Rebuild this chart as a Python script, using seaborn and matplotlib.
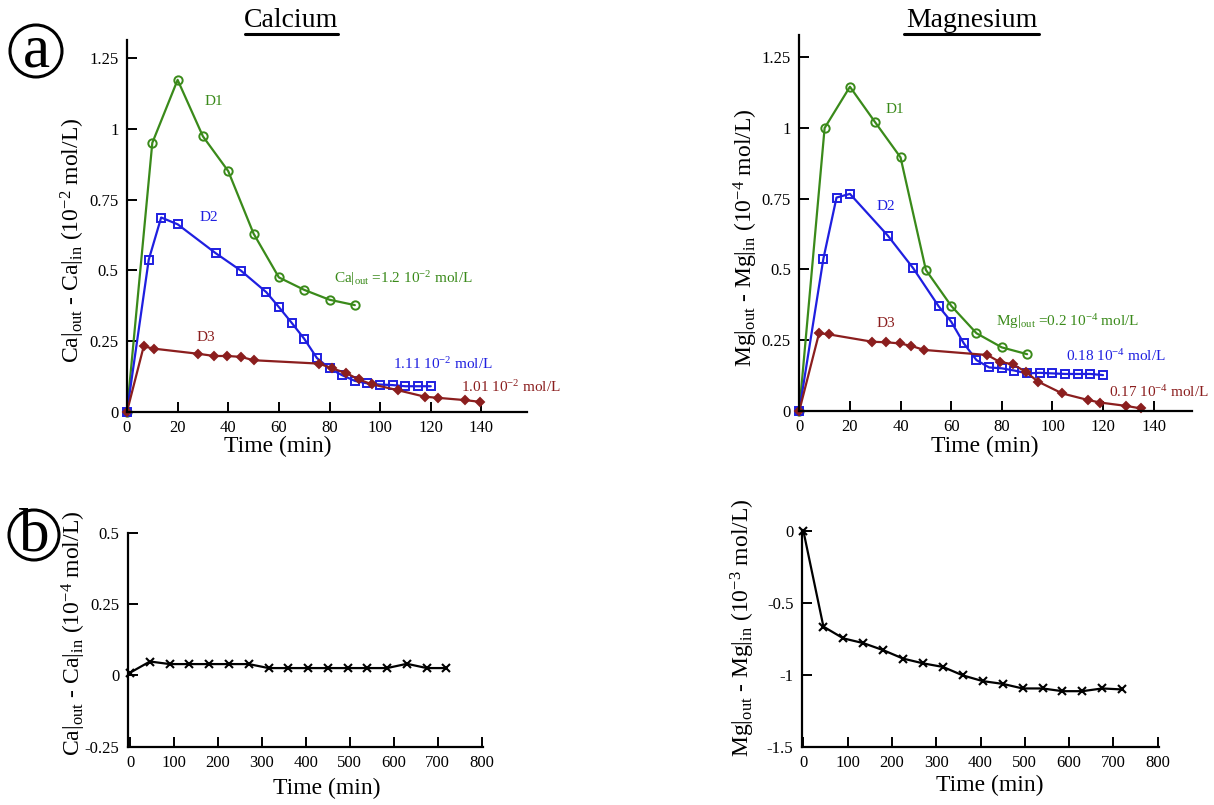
import matplotlib
matplotlib.use("Agg")
import matplotlib.pyplot as plt
from matplotlib.lines import Line2D
from matplotlib.patches import Circle
import seaborn as sns

# ---- Calcium, short runs (10^-2 mol/L) ----
ca_d1_t = [0, 10, 20, 30, 40, 50, 60, 70, 80, 90]
ca_d1_v = [0, 0.951, 1.174, 0.974, 0.851, 0.630, 0.475, 0.431, 0.396, 0.377]
ca_d2_t = [0, 8.6, 13.5, 20, 35, 45, 55, 60, 65, 70, 75, 80, 85, 90, 95, 100, 105, 110, 115, 120]
ca_d2_v = [0, 0.538, 0.687, 0.663, 0.561, 0.499, 0.423, 0.370, 0.315, 0.258, 0.190, 0.153,
           0.129, 0.109, 0.100, 0.096, 0.094, 0.090, 0.090, 0.090]
ca_d3_t = [0, 6.6, 10.6, 28, 34.5, 39.6, 45, 50, 76, 81, 86.5, 91.5, 96.7, 107, 117.6, 122.8, 133.4, 139.3]
ca_d3_v = [0, 0.231, 0.223, 0.205, 0.197, 0.197, 0.194, 0.182, 0.170, 0.153, 0.137, 0.114,
           0.097, 0.076, 0.053, 0.049, 0.041, 0.035]

# ---- Magnesium, short runs (10^-4 mol/L) ----
mg_d1_t = [0, 10, 20, 30, 40, 50, 60, 70, 80, 90]
mg_d1_v = [0, 1.0, 1.146, 1.02, 0.896, 0.498, 0.371, 0.274, 0.224, 0.2]
mg_d2_t = [0, 9.5, 14.7, 20, 35, 45, 55, 60, 65, 70, 75, 80, 85, 90, 95, 100, 105, 110, 115, 120]
mg_d2_v = [0, 0.537, 0.754, 0.767, 0.619, 0.504, 0.370, 0.315, 0.238, 0.179, 0.153, 0.150,
           0.142, 0.132, 0.134, 0.132, 0.130, 0.130, 0.130, 0.126]
mg_d3_t = [0, 7.8, 11.7, 28.8, 34.4, 39.7, 44.3, 49.3, 74.3, 79.1, 84.4, 89.4, 94.3, 103.9, 114, 118.8, 129.1, 135]
mg_d3_v = [0, 0.274, 0.270, 0.244, 0.242, 0.238, 0.229, 0.215, 0.197, 0.173, 0.164, 0.138,
           0.103, 0.061, 0.038, 0.029, 0.017, 0.008]

# ---- Long run ----
long_t = [0, 45, 90, 135, 180, 225, 270, 315, 360, 405, 450, 495, 540, 585, 630, 675, 720]
ca_long_v = [0.01, 0.049, 0.040, 0.040, 0.040, 0.040, 0.040, 0.026, 0.026, 0.026, 0.026,
             0.026, 0.026, 0.026, 0.041, 0.026, 0.026]
mg_long_v = [0, -0.663, -0.745, -0.778, -0.827, -0.886, -0.919, -0.944, -1.003, -1.043,
             -1.062, -1.094, -1.094, -1.113, -1.113, -1.094, -1.101]

top_xticks = [0, 20, 40, 60, 80, 100, 120, 140]
top_yticks = [0, 0.25, 0.5, 0.75, 1, 1.25]
top_ylabels = ["0", "0.25", "0.5", "0.75", "1", "1.25"]
bot_xticks = [0, 100, 200, 300, 400, 500, 600, 700, 800]
ca_long_yticks = [-0.25, 0, 0.25, 0.5]
ca_long_ylabels = ["-0.25", "0", "0.25", "0.5"]
mg_long_yticks = [-1.5, -1, -0.5, 0]
mg_long_ylabels = ["-1.5", "-1", "-0.5", "0"]

GREEN = "#3a8a1a"
BLUE = "#1f1fe0"
DRED = "#8b1e1e"

sns.set_theme(style="ticks")
plt.rcParams.update({
    "font.family": ["Liberation Serif", "DejaVu Serif"],
    "mathtext.fontset": "custom",
    "mathtext.rm": "Liberation Serif",
    "mathtext.it": "Liberation Serif:italic",
    "axes.unicode_minus": False,
    "text.color": "black",
    "axes.labelcolor": "black",
    "axes.linewidth": 1.6,
    "axes.edgecolor": "black",
    "xtick.direction": "in",
    "ytick.direction": "in",
    "xtick.major.size": 7,
    "ytick.major.size": 7,
    "xtick.major.width": 1.4,
    "ytick.major.width": 1.4,
    "xtick.color": "black",
    "ytick.color": "black",
    "xtick.labelcolor": "black",
    "ytick.labelcolor": "black",
    "xtick.labelsize": 12,
    "ytick.labelsize": 12,
    "xtick.major.pad": 6,
    "ytick.major.pad": 6,
})

fig = plt.figure(figsize=(12.14, 8.05), dpi=100)
fig.patch.set_facecolor("white")

ax_ca = fig.add_axes([0.1046, 0.4886, 0.3295, 0.4617])
ax_mg = fig.add_axes([0.6584, 0.4898, 0.3232, 0.4667])
ax_cal = fig.add_axes([0.1054, 0.0724, 0.2924, 0.2655])
ax_mgl = fig.add_axes([0.6604, 0.0724, 0.2946, 0.2692])

ANN = 11


def series(ax, t, v, color, marker, ms, mfc):
    sns.lineplot(x=t, y=v, ax=ax, color=color, lw=1.6, sort=False, estimator=None,
                 marker=marker, markersize=ms, markerfacecolor=mfc,
                 markeredgecolor=color, markeredgewidth=1.4, clip_on=False)


def style(ax):
    for s in ("top", "right"):
        ax.spines[s].set_visible(False)
    ax.set_facecolor("white")


# Calcium, short runs
series(ax_ca, ca_d1_t, ca_d1_v, GREEN, "o", 6, "none")
series(ax_ca, ca_d2_t, ca_d2_v, BLUE, "s", 6, "none")
series(ax_ca, ca_d3_t, ca_d3_v, DRED, "D", 4.5, DRED)
ax_ca.set_xlim(0, 158)
ax_ca.set_ylim(0, 1.315)
ax_ca.set_xticks(top_xticks)
ax_ca.set_yticks(top_yticks, top_ylabels)
ax_ca.set_xlabel("Time (min)", fontsize=17)
ax_ca.xaxis.set_label_coords(0.378, -0.065)
ax_ca.set_ylabel(r"Ca$\mathregular{|_{out}}$ - Ca$\mathregular{|_{in}}$ (10$^{\mathregular{-2}}$ mol/L)",
                 fontsize=17)
ax_ca.yaxis.set_label_coords(-0.10, 0.46)
ax_ca.text(34.5, 1.097, "D1", color=GREEN, fontsize=ANN, ha="center", va="center")
ax_ca.text(32.4, 0.687, "D2", color=BLUE, fontsize=ANN, ha="center", va="center")
ax_ca.text(31, 0.264, "D3", color=DRED, fontsize=ANN, ha="center", va="center")
ax_ca.text(81.9, 0.47, r"Ca$\mathregular{|_{out}}$ =1.2 10$^{\mathregular{-2}}$ mol/L",
           color=GREEN, fontsize=ANN, ha="left", va="center", clip_on=False)
ax_ca.text(105, 0.17, r"1.11 10$^{\mathregular{-2}}$ mol/L", color=BLUE, fontsize=ANN,
           ha="left", va="center", clip_on=False)
ax_ca.text(132, 0.088, r"1.01 10$^{\mathregular{-2}}$ mol/L", color=DRED, fontsize=ANN,
           ha="left", va="center", clip_on=False)
style(ax_ca)

# Magnesium, short runs
series(ax_mg, mg_d1_t, mg_d1_v, GREEN, "o", 6, "none")
series(ax_mg, mg_d2_t, mg_d2_v, BLUE, "s", 6, "none")
series(ax_mg, mg_d3_t, mg_d3_v, DRED, "D", 4.5, DRED)
ax_mg.set_xlim(0, 155)
ax_mg.set_ylim(0, 1.329)
ax_mg.set_xticks(top_xticks)
ax_mg.set_yticks(top_yticks, top_ylabels)
ax_mg.set_xlabel("Time (min)", fontsize=17)
ax_mg.xaxis.set_label_coords(0.473, -0.068)
ax_mg.set_ylabel(r"Mg$\mathregular{|_{out}}$ - Mg$\mathregular{|_{in}}$ (10$^{\mathregular{-4}}$ mol/L)",
                 fontsize=17)
ax_mg.yaxis.set_label_coords(-0.10, 0.46)
ax_mg.text(37.7, 1.066, "D1", color=GREEN, fontsize=ANN, ha="center", va="center")
ax_mg.text(34.2, 0.724, "D2", color=BLUE, fontsize=ANN, ha="center", va="center")
ax_mg.text(34.2, 0.309, "D3", color=DRED, fontsize=ANN, ha="center", va="center")
ax_mg.text(77.8, 0.315, r"Mg$\mathregular{|_{out}}$ =0.2 10$^{\mathregular{-4}}$ mol/L",
           color=GREEN, fontsize=ANN, ha="left", va="center", clip_on=False)
ax_mg.text(105.4, 0.193, r"0.18 10$^{\mathregular{-4}}$ mol/L", color=BLUE, fontsize=ANN,
           ha="left", va="center", clip_on=False)
ax_mg.text(122.5, 0.067, r"0.17 10$^{\mathregular{-4}}$ mol/L", color=DRED, fontsize=ANN,
           ha="left", va="center", clip_on=False)
style(ax_mg)

# Long run, calcium
sns.lineplot(x=long_t, y=ca_long_v, ax=ax_cal, color="black", lw=1.6, sort=False,
             estimator=None, marker="x", markersize=6, markeredgecolor="black",
             markeredgewidth=1.5, clip_on=False)
ax_cal.set_xlim(-5, 803)
ax_cal.set_ylim(-0.25, 0.5)
ax_cal.set_xticks(bot_xticks)
ax_cal.set_yticks(ca_long_yticks, ca_long_ylabels)
ax_cal.set_xlabel("Time (min)", fontsize=17)
ax_cal.xaxis.set_label_coords(0.56, -0.145)
ax_cal.set_ylabel(r"Ca$\mathregular{|_{out}}$ - Ca$\mathregular{|_{in}}$ (10$^{\mathregular{-4}}$ mol/L)",
                  fontsize=17)
ax_cal.yaxis.set_label_coords(-0.113, 0.53)
style(ax_cal)

# Long run, magnesium
sns.lineplot(x=long_t, y=mg_long_v, ax=ax_mgl, color="black", lw=1.6, sort=False,
             estimator=None, marker="x", markersize=6, markeredgecolor="black",
             markeredgewidth=1.5, clip_on=False)
ax_mgl.set_xlim(-4, 804)
ax_mgl.set_ylim(-1.5, 0.01)
ax_mgl.set_xticks(bot_xticks)
ax_mgl.set_yticks(mg_long_yticks, mg_long_ylabels)
ax_mgl.set_xlabel("Time (min)", fontsize=17)
ax_mgl.xaxis.set_label_coords(0.527, -0.13)
ax_mgl.set_ylabel(r"Mg$\mathregular{|_{out}}$ - Mg$\mathregular{|_{in}}$ (10$^{\mathregular{-3}}$ mol/L)",
                  fontsize=17)
ax_mgl.yaxis.set_label_coords(-0.125, 0.548)
style(ax_mgl)

# Column titles with underline
W, H = 1214.0, 805.0
for label, cx, x0, x1 in (("Calcium", 291, 245, 338), ("Magnesium", 971.5, 904, 1039)):
    fig.text(cx / W, 1 - 27 / H, label, fontsize=20, ha="center", va="baseline", color="black")
    fig.add_artist(Line2D([x0 / W, x1 / W], [1 - 34 / H, 1 - 34 / H], color="black", lw=2.2))

# Panel letters in circles
for letter, cx, cy, r in (("a", 36, 51, 26), ("b", 34, 535, 25)):
    fig.add_artist(Circle((cx / 100, (H - cy) / 100), r / 100, transform=fig.dpi_scale_trans,
                          fill=False, ec="black", lw=2.2))
    fig.text(cx / W, 1 - (cy + 1) / H, letter, fontsize=44, ha="center", va="center",
             color="black")

fig.savefig("out.png", dpi=100, facecolor="white")
